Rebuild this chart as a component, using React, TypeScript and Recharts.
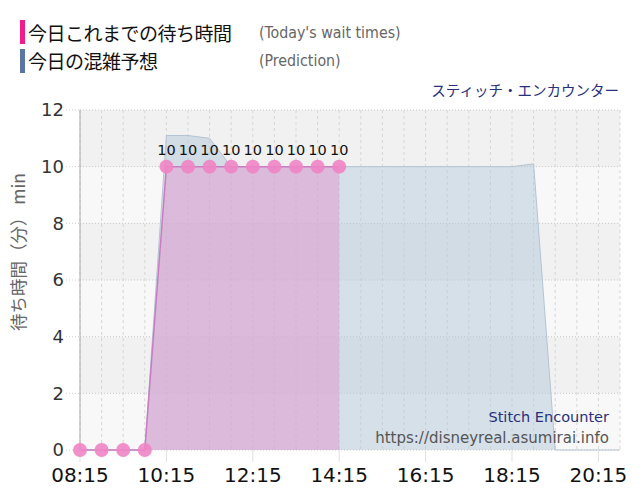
import React from 'react';
import {
  ComposedChart,
  Area,
  XAxis,
  YAxis,
  CartesianGrid,
  LabelList,
} from 'recharts';

// 30分刻みの時刻
const slots = [
  '08:15', '08:45', '09:15', '09:45', '10:15', '10:45', '11:15', '11:45',
  '12:15', '12:45', '13:15', '13:45', '14:15', '14:45', '15:15', '15:45',
  '16:15', '16:45', '17:15', '17:45', '18:15', '18:45', '19:15', '19:45',
  '20:15', '20:45',
];
// 今日これまでの待ち時間 (14:15 まで)
const actualWait = [0, 0, 0, 0, 10, 10, 10, 10, 10, 10, 10, 10, 10];
// 今日の混雑予想
const predictedWait = [
  0, 0, 0, 0, 11.1, 11.1, 11, 10, 10, 10, 10, 10, 10, 10, 10, 10, 10, 10, 10,
  10, 10, 10.1, 0, 0, 0, 0,
];
const xTicks = ['08:15', '10:15', '12:15', '14:15', '16:15', '18:15', '20:15'];
const yTicks = [0, 2, 4, 6, 8, 10, 12];

const START = 8 * 60 + 15;
const X_MAX = 750;
const toMin = (t: string) => {
  const [h, m] = t.split(':').map(Number);
  return h * 60 + m - START;
};
const fmt = (v: number) => {
  const t = v + START;
  return `${String(Math.floor(t / 60)).padStart(2, '0')}:${String(t % 60).padStart(2, '0')}`;
};

const data = slots.map((s, i) => ({
  min: toMin(s),
  actual: i < actualWait.length ? actualWait[i] : null,
  predicted: predictedWait[i],
}));

const JP = '"Noto Sans CJK JP", sans-serif';
const LATIN = '"DejaVu Sans", sans-serif';
const LATIN_C = '"DejaVu Sans Condensed", "DejaVu Sans", sans-serif';

// 30分ごとの縦グリッド
const gridX = ({ offset }: any) =>
  data.map((d) => offset.left + (d.min / X_MAX) * offset.width);

export default function App() {
  return (
    <div style={{ position: 'absolute', left: 0, top: 0, width: 640, height: 500, background: '#fff', fontFamily: JP }}>
      {/* 凡例 */}
      <div style={{ position: 'absolute', left: 20, top: 20, width: 5, height: 24, background: '#f01c8c' }} />
      <div style={{ position: 'absolute', left: 28, top: 20, fontSize: 19, letterSpacing: -0.5, lineHeight: '25px', color: '#111' }}>今日これまでの待ち時間</div>
      <div style={{ position: 'absolute', left: 259, top: 20, fontSize: 15.8, lineHeight: '25px', color: '#666', fontFamily: LATIN_C }}>(Today's wait times)</div>
      <div style={{ position: 'absolute', left: 20, top: 49, width: 5, height: 24, background: '#5b76a2' }} />
      <div style={{ position: 'absolute', left: 28, top: 48, fontSize: 19, letterSpacing: -0.5, lineHeight: '25px', color: '#111' }}>今日の混雑予想</div>
      <div style={{ position: 'absolute', left: 259, top: 48, fontSize: 15.8, lineHeight: '25px', color: '#666', fontFamily: LATIN_C }}>(Prediction)</div>
      <div style={{ position: 'absolute', right: 21, top: 79, fontSize: 14.5, color: '#27307a' }}>スティッチ・エンカウンター</div>

      {/* 縦軸ラベル */}
      <div
        style={{
          position: 'absolute',
          left: 18,
          top: 252,
          transform: 'translate(-50%, -50%) rotate(-90deg)',
          whiteSpace: 'nowrap',
          fontSize: 17.5,
          lineHeight: '20px',
          color: '#666',
          zIndex: 1,
        }}
      >
        待ち時間（分） min
      </div>

      <div style={{ position: 'absolute', left: 0, top: 0 }}>
        <ComposedChart width={640} height={500} data={data} margin={{ top: 110, right: 20, bottom: 0, left: 0 }}>
          <CartesianGrid
            vertical={false}
            stroke="#c8c8c8"
            strokeDasharray="1 2"
            horizontalFill={['#f1f1f1', '#f8f8f8']}
          />
          <CartesianGrid
            horizontal={false}
            stroke="#d6d6d6"
            strokeDasharray="3 3"
            verticalCoordinatesGenerator={gridX}
          />
          <XAxis
            dataKey="min"
            type="number"
            domain={[0, X_MAX]}
            ticks={xTicks.map(toMin)}
            tickFormatter={fmt}
            axisLine={false}
            tickLine={{ stroke: '#e0e0e0' }}
            tickSize={12}
            tickMargin={6}
            height={50}
            tick={{ fontSize: 20, fill: '#111', fontFamily: LATIN }}
          />
          <YAxis
            domain={[0, 12]}
            ticks={yTicks}
            width={80}
            axisLine={{ stroke: '#aaa' }}
            tickLine={{ stroke: '#d0d0d0', strokeDasharray: '1 2' }}
            tickSize={14}
            tickMargin={2}
            tick={{ fontSize: 18, fill: '#333', fontFamily: LATIN }}
          />
          <Area
            type="linear"
            dataKey="predicted"
            stroke="#b5c4d2"
            strokeWidth={1}
            fill="#b3c8da"
            fillOpacity={0.5}
            dot={false}
            activeDot={false}
            isAnimationActive={false}
          />
          <Area
            type="linear"
            dataKey="actual"
            stroke="#c97cc4"
            strokeWidth={1.5}
            fill="#e0a0d2"
            fillOpacity={0.6}
            dot={{ r: 7, fill: '#ef84c4', stroke: 'none', fillOpacity: 0.9 }}
            activeDot={false}
            connectNulls={false}
            isAnimationActive={false}
          >
            <LabelList
              dataKey="actual"
              position="top"
              offset={12}
              formatter={(v: any) => (v > 0 ? v : '')}
              style={{ fontSize: 14.5, fill: '#111', fontFamily: LATIN }}
            />
          </Area>
        </ComposedChart>
      </div>

      <div style={{ position: 'absolute', right: 31, top: 409, fontSize: 14.5, color: '#27307a', fontFamily: LATIN }}>Stitch Encounter</div>
      <div style={{ position: 'absolute', right: 31, top: 429, fontSize: 15, color: '#555', fontFamily: LATIN }}>https://disneyreal.asumirai.info</div>
    </div>
  );
}
